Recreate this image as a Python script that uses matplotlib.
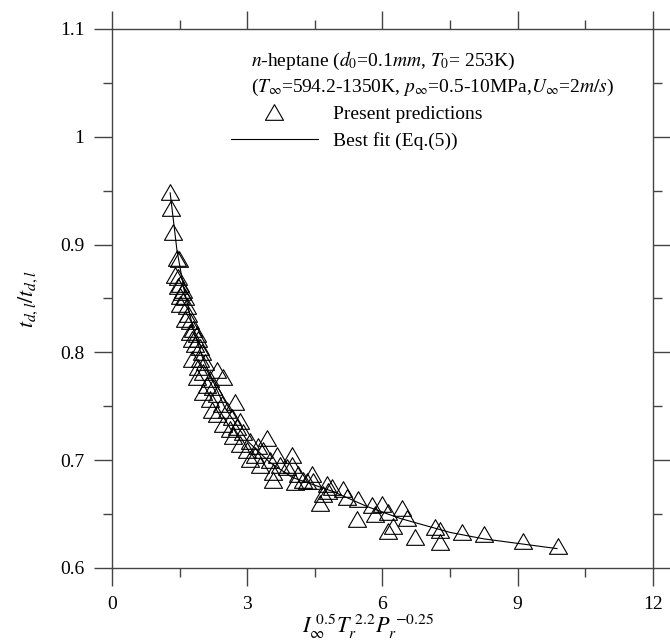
import matplotlib
matplotlib.use("Agg")
import matplotlib.pyplot as plt
from matplotlib.ticker import MultipleLocator
from matplotlib.path import Path

plt.rcParams['font.family'] = ['Liberation Serif', 'DejaVu Serif']
plt.rcParams['mathtext.fontset'] = 'stix'

# Present predictions
pred_x = [1.287, 1.309, 1.353, 1.442, 1.486, 1.398, 1.464, 1.508, 1.575, 1.464,
          1.553, 1.508, 1.619, 1.508, 1.664, 1.686, 1.619, 1.730, 1.797, 1.730,
          1.886, 1.775, 1.908, 1.841, 1.952, 1.996, 1.775, 1.952, 2.063, 1.908,
          2.329, 2.019, 2.462, 1.886, 2.174, 2.107, 2.240, 2.019, 2.329, 2.174,
          2.729, 2.440, 2.218, 2.551, 2.329, 2.662, 2.839, 2.462, 2.773, 2.618,
          2.906, 2.684, 3.438, 3.061, 2.839, 3.239, 2.995, 3.350, 3.172, 3.660,
          3.993, 3.061, 3.505, 3.727, 3.283, 3.882, 3.571, 4.126, 4.437, 3.571,
          4.237, 4.059, 4.769, 4.880, 4.326, 4.792, 4.681, 4.614, 5.124, 5.213,
          5.457, 5.768, 5.989, 5.435, 5.834, 6.122, 6.433, 6.544, 6.233, 6.122,
          6.721, 7.165, 7.276, 7.276, 7.764, 8.252, 9.117, 9.894, 3.993, 4.459]
pred_y = [0.949, 0.934, 0.912, 0.888, 0.887, 0.872, 0.870, 0.863, 0.858, 0.862,
          0.856, 0.852, 0.851, 0.845, 0.843, 0.836, 0.831, 0.829, 0.822, 0.819,
          0.817, 0.812, 0.812, 0.808, 0.805, 0.800, 0.794, 0.794, 0.791, 0.786,
          0.784, 0.782, 0.777, 0.777, 0.775, 0.770, 0.768, 0.763, 0.761, 0.757,
          0.754, 0.752, 0.747, 0.747, 0.743, 0.740, 0.736, 0.734, 0.731, 0.729,
          0.726, 0.722, 0.721, 0.718, 0.715, 0.713, 0.709, 0.709, 0.705, 0.705,
          0.705, 0.701, 0.700, 0.696, 0.696, 0.694, 0.689, 0.687, 0.687, 0.682,
          0.682, 0.680, 0.678, 0.675, 0.681, 0.671, 0.669, 0.660, 0.673, 0.666,
          0.664, 0.658, 0.659, 0.645, 0.650, 0.652, 0.656, 0.646, 0.639, 0.634,
          0.629, 0.638, 0.635, 0.624, 0.633, 0.632, 0.625, 0.620, 0.696, 0.681]

# Best fit (Eq.(5)) line
fit_x = [1.29, 1.44, 1.6, 1.8, 2.0, 2.5, 3.0, 3.5, 4.0, 4.9, 5.66, 6.39, 7.5, 8.25, 9.87]
fit_y = [0.948, 0.895, 0.858, 0.822, 0.796, 0.749, 0.718, 0.698, 0.684, 0.671,
         0.657, 0.646, 0.633, 0.627, 0.618]

x_ticks = [0, 3, 6, 9, 12]
y_ticks = [0.6, 0.7, 0.8, 0.9, 1.0, 1.1]
y_tick_labels = ['0.6', '0.7', '0.8', '0.9', '1', '1.1']

W, H = 670, 643
fig = plt.figure(figsize=(W / 100, H / 100), dpi=100)
ax = fig.add_axes([112 / W, 1 - 568 / H, (653 - 112) / W, (568 - 29) / H])

tri = Path([(-1, -0.866), (1, -0.866), (0, 0.866), (-1, -0.866)], closed=True)
ax.plot(pred_x, pred_y, linestyle='none', marker=tri, markersize=13,
        markerfacecolor='none', markeredgecolor='black', markeredgewidth=0.8,
        label='Present predictions')
ax.plot(fit_x, fit_y, color='black', linewidth=0.8, label='Best fit (Eq.(5))')

ax.set_xlim(0, 12)
ax.set_ylim(0.6, 1.1)
ax.set_xticks(x_ticks)
ax.set_yticks(y_ticks)
ax.set_yticklabels(y_tick_labels)
ax.xaxis.set_minor_locator(MultipleLocator(1.5))
ax.yaxis.set_minor_locator(MultipleLocator(0.05))
ax.tick_params(which='both', direction='out', top=True, right=True,
               labeltop=False, labelright=False, color='#444444', width=1.0)
ax.tick_params(which='major', length=13, labelsize=14, pad=7)
ax.tick_params(which='minor', length=6.5)
for s in ax.spines.values():
    s.set_color('#444444')
    s.set_linewidth(1.0)

ax.set_xlabel(r'$I_{\infty}^{\ \mathit{0.5}}T_r^{\ \mathit{2.2}}P_r^{\ \mathit{-0.25}}$',
              fontsize=16, labelpad=0)
ax.xaxis.label.set_x(0.473)
ax.set_ylabel(r'$t_{d,l}/t_{d,l}$', fontsize=16, labelpad=14)

ax.text(251 / W, 1 - 66 / H,
        r'$n$-heptane ($d_0$=0.1$mm$, $T_0$= 253K)',
        transform=fig.transFigure, fontsize=14, va='baseline', ha='left')
ax.text(251 / W, 1 - 92 / H,
        r'($T_{\infty}$=594.2-1350K, $p_{\infty}$=0.5-10MPa,$U_{\infty}$=2$m/s$)',
        transform=fig.transFigure, fontsize=14, va='baseline', ha='left')

leg = ax.legend(loc='upper left', bbox_to_anchor=(231 / W, 1 - 105 / H),
                bbox_transform=fig.transFigure, frameon=False, fontsize=14,
                handlelength=4.45, handletextpad=0.8, labelspacing=0.5,
                borderpad=0, borderaxespad=0, numpoints=1)

fig.savefig('out.png', dpi=100)
